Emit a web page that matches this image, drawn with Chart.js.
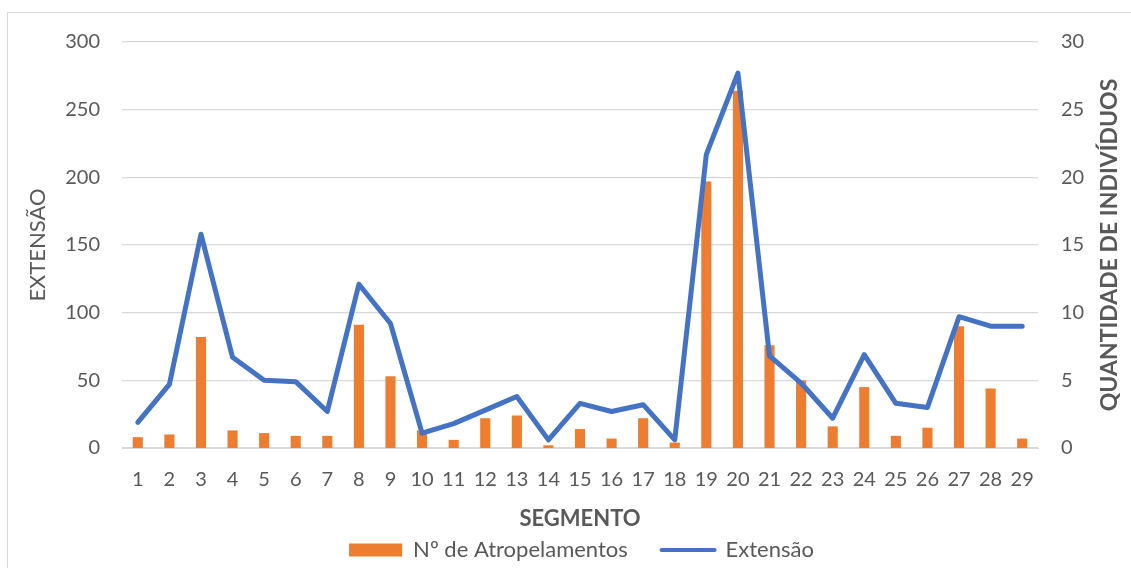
<!DOCTYPE html>
<html>
<head>
<meta charset="utf-8">
<script src="https://cdn.jsdelivr.net/npm/chart.js@4.4.1/dist/chart.umd.min.js"></script>
<style>
  html, body { margin: 0; padding: 0; background: #fff; }
  #wrap { position: relative; width: 1131px; height: 568px; }
</style>
</head>
<body>
<div id="wrap"><canvas id="c" width="1131" height="568"></canvas></div>
<script>
const SEGMENTOS = ['1','2','3','4','5','6','7','8','9','10','11','12','13','14','15',
  '16','17','18','19','20','21','22','23','24','25','26','27','28','29'];

// Extensão (left axis)
const EXTENSAO = [19, 47, 158, 67, 50, 49, 27, 121, 92, 11, 18, 28, 38, 6, 33,
  27, 32, 6, 217, 277, 68, 48, 22, 69, 33, 30, 97, 90, 90];

// Nº de Atropelamentos (right axis)
const ATROPELAMENTOS = [0.8, 1.0, 8.2, 1.3, 1.1, 0.9, 0.9, 9.1, 5.3, 1.3, 0.6, 2.2, 2.4, 0.2, 1.4,
  0.7, 2.2, 0.4, 19.7, 26.4, 7.6, 5.0, 1.6, 4.5, 0.9, 1.5, 9.0, 4.4, 0.7];

const LEFT_TICKS = [0, 50, 100, 150, 200, 250, 300];
const RIGHT_TICKS = [0, 5, 10, 15, 20, 25, 30];

const ORANGE = '#ED7D31';
const BLUE = '#4472C4';
const GREY_TXT = '#595959';
const GRID = '#D9D9D9';
const FONT = 'Lato, "Open Sans", sans-serif';

// outer frame + right axis title (reads bottom-to-top, like Excel)
const framePlugin = {
  id: 'frame',
  beforeDraw(chart) {
    const ctx = chart.ctx;
    ctx.save();
    ctx.strokeStyle = GRID;
    ctx.lineWidth = 1;
    ctx.strokeRect(7.5, 12.5, 1300, 700);
    ctx.restore();
  },
  afterDraw(chart) {
    const { ctx, chartArea } = chart;
    ctx.save();
    ctx.translate(1110, (chartArea.top + chartArea.bottom) / 2);
    ctx.rotate(-Math.PI / 2);
    ctx.fillStyle = GREY_TXT;
    ctx.font = 'bold 23px ' + FONT;
    ctx.textAlign = 'center';
    ctx.textBaseline = 'middle';
    ctx.fillText('QUANTIDADE DE INDIVÍDUOS', 0, 0);
    ctx.restore();
  },
};

new Chart(document.getElementById('c'), {
  data: {
    labels: SEGMENTOS,
    datasets: [
      {
        type: 'bar',
        label: 'Nº de Atropelamentos',
        data: ATROPELAMENTOS,
        yAxisID: 'y1',
        backgroundColor: ORANGE,
        borderWidth: 0,
        categoryPercentage: 1,
        barPercentage: 0.32,
        order: 2,
      },
      {
        type: 'line',
        label: 'Extensão',
        data: EXTENSAO,
        yAxisID: 'y',
        borderColor: BLUE,
        backgroundColor: BLUE,
        borderWidth: 5,
        borderJoinStyle: 'round',
        borderCapStyle: 'round',
        pointRadius: 0,
        tension: 0,
        order: 1,
      },
    ],
  },
  options: {
    responsive: false,
    animation: false,
    // uneven side padding nudges the centred legend right, as in Excel
    layout: { padding: { left: 16, right: -16, top: 42, bottom: -3 } },
    plugins: {
      tooltip: { enabled: false },
      legend: {
        position: 'bottom',
        labels: {
          color: GREY_TXT,
          font: { family: FONT, size: 22 },
          usePointStyle: true,
          pointStyleWidth: 53,
          boxHeight: 13,
          padding: 6,
          generateLabels(chart) {
            return chart.data.datasets.map((ds, i) => ({
              // trailing spaces give Excel's wide gap between entries
              text: ds.type === 'bar' ? ds.label + '\u2003  ' : ds.label,
              fillStyle: ds.type === 'bar' ? ORANGE : BLUE,
              strokeStyle: ds.type === 'bar' ? ORANGE : BLUE,
              lineWidth: ds.type === 'bar' ? 0 : 4,
              lineCap: 'round',
              pointStyle: ds.type === 'bar' ? 'rect' : 'line',
              fontColor: GREY_TXT,
              hidden: false,
              datasetIndex: i,
            }));
          },
        },
      },
    },
    scales: {
      x: {
        grid: { display: false, drawTicks: false },
        border: { color: GRID, width: 1 },
        ticks: { color: GREY_TXT, font: { family: FONT, size: 20, lineHeight: 1 }, padding: 22, maxRotation: 0, autoSkip: false },
        title: { display: true, text: 'SEGMENTO', color: GREY_TXT, font: { family: FONT, size: 22, weight: 'bold', lineHeight: 1 }, padding: { top: -4, bottom: 3 } },
      },
      y: {
        position: 'left',
        min: 0,
        max: 300,
        afterBuildTicks: s => { s.ticks = LEFT_TICKS.map(v => ({ value: v })); },
        grid: { color: GRID, lineWidth: 1.3, drawTicks: false },
        border: { display: false },
        ticks: { color: GREY_TXT, font: { family: FONT, size: 20 }, padding: 22 },
        title: { display: true, text: 'EXTENSÃO', color: GREY_TXT, font: { family: FONT, size: 22 }, padding: { top: 9, bottom: 0 } },
        afterFit: s => { s.width = 106; },
      },
      y1: {
        position: 'right',
        min: 0,
        max: 30,
        afterBuildTicks: s => { s.ticks = RIGHT_TICKS.map(v => ({ value: v })); },
        grid: { display: false, drawTicks: false },
        border: { display: false },
        ticks: { color: GREY_TXT, font: { family: FONT, size: 20 }, padding: 23 },
        afterFit: s => { s.width = 109; },
      },
    },
  },
  plugins: [framePlugin],
});
</script>
</body>
</html>
